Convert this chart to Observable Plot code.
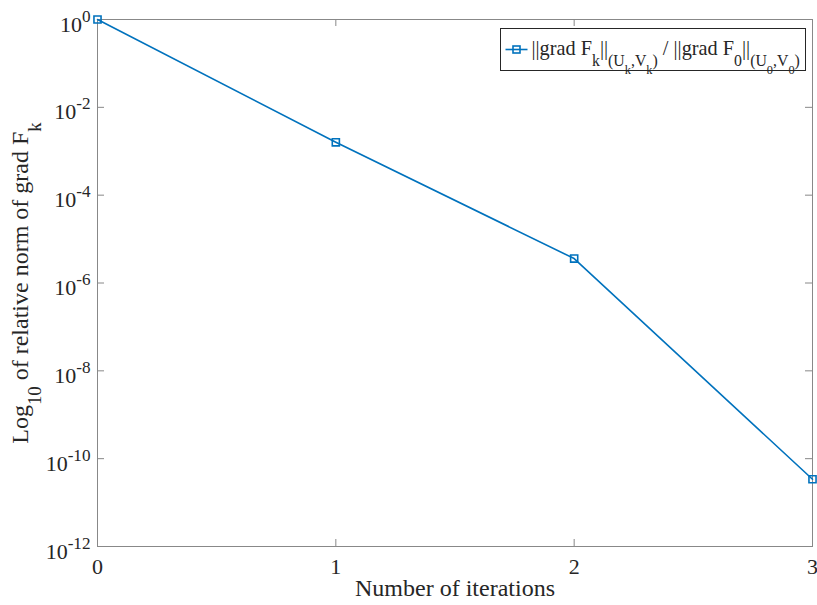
<!DOCTYPE html>
<html><head><meta charset="utf-8">
<script src="https://cdn.jsdelivr.net/npm/d3@7"></script>
<script src="https://cdn.jsdelivr.net/npm/@observablehq/plot@0.6"></script>
<style>
body{margin:0;background:#fff;}
#wrap{position:relative;width:817px;height:605px;overflow:hidden;}
</style></head><body><div id="wrap"></div>
<script>
// ---- data ----
const iterations = [0, 1, 2, 3];
const relNorm = [1, 1.6e-3, 3.6e-6, 3.4e-11];
const xTicks = [0, 1, 2, 3];
const xTickLabels = ["0", "1", "2", "3"];
const yTicks = [1e0, 1e-2, 1e-4, 1e-6, 1e-8, 1e-10, 1e-12];
const yTickLabels = ["10^{0}", "10^{-2}", "10^{-4}", "10^{-6}", "10^{-8}", "10^{-10}", "10^{-12}"];
const xLabel = "Number of iterations";
const yLabel = "Log_{10} of relative norm of grad F_{k}";
const seriesName = "||grad F_{k}||_{(U_{k},V_{k})} / ||grad F_{0}||_{(U_{0},V_{0})}";

const data = iterations.map((x, i) => ({x, y: relNorm[i]}));

const W = 817, H = 605, mL = 97, mR = 5, mT = 19, mB = 59;
const fw = W - mL - mR, fh = H - mT - mB;
const tick = 7;
const axisColor = "#888888", textColor = "#262626", lineColor = "#0072BD";
const font = "'Liberation Serif', 'Times New Roman', serif";

const plot = Plot.plot({
  width: W, height: H,
  marginLeft: mL, marginRight: mR, marginTop: mT, marginBottom: mB,
  style: {fontFamily: font, background: "#fff", color: textColor},
  x: {domain: [0, 3], axis: null},
  y: {type: "log", domain: [1e-12, 1], axis: null},
  marks: [
    Plot.frame({stroke: axisColor}),
    Plot.tickY(yTicks, {y: d => d, stroke: axisColor, insetRight: fw - tick}),
    Plot.tickY(yTicks, {y: d => d, stroke: axisColor, insetLeft: fw - tick}),
    Plot.tickX(xTicks, {x: d => d, stroke: axisColor, insetTop: fh - tick}),
    Plot.tickX(xTicks, {x: d => d, stroke: axisColor, insetBottom: fh - tick}),
    Plot.text(yTicks, {y: d => d, text: (d, i) => yTickLabels[i], frameAnchor: "left", textAnchor: "end", dx: -7, dy: 5, fontSize: 22, fill: textColor}),
    Plot.text(xTicks, {x: d => d, text: (d, i) => xTickLabels[i], frameAnchor: "bottom", lineAnchor: "top", dy: 12, fontSize: 22, fill: textColor}),
    Plot.text([xLabel], {text: d => d, frameAnchor: "bottom", textAnchor: "middle", dy: 49, fontSize: 24, fill: textColor}),
    Plot.text([yLabel], {text: d => d, frameAnchor: "left", textAnchor: "middle", rotate: -90, dx: -77, fontSize: 24, fill: textColor}),
    Plot.line(data, {x: "x", y: "y", stroke: lineColor, strokeWidth: 1.6}),
    Plot.dot(data, {x: "x", y: "y", symbol: "square", r: 4, stroke: lineColor, strokeWidth: 1.6, fill: "none"})
  ]
});
const wrap = document.getElementById("wrap");
wrap.appendChild(plot);

// ---- rich text (sub/superscripts) ----
function parseRich(s, size, shift, out) {
  let buf = "", i = 0;
  while (i < s.length) {
    const c = s[i];
    if ((c === "_" || c === "^") && s[i + 1] === "{") {
      if (buf) { out.push({t: buf, size, shift}); buf = ""; }
      let depth = 1, j = i + 2;
      while (j < s.length && depth > 0) { if (s[j] === "{") depth++; else if (s[j] === "}") depth--; j++; }
      const inner = s.slice(i + 2, j - 1);
      const ns = size * 0.78;
      const nsh = c === "_" ? shift + size * 0.55 : shift - size * 0.45;
      parseRich(inner, ns, nsh, out);
      i = j;
    } else { buf += c; i++; }
  }
  if (buf) out.push({t: buf, size, shift});
  return out;
}
function richify(el, s, size) {
  const segs = parseRich(s, size, 0, []);
  while (el.firstChild) el.removeChild(el.firstChild);
  let cur = 0;
  for (const g of segs) {
    const ts = document.createElementNS("http://www.w3.org/2000/svg", "tspan");
    ts.setAttribute("font-size", g.size);
    if (g.shift !== cur) ts.setAttribute("dy", g.shift - cur);
    cur = g.shift;
    ts.textContent = g.t;
    el.appendChild(ts);
  }
}
plot.querySelectorAll("text").forEach(el => {
  const s = el.textContent;
  if (s.includes("_{") || s.includes("^{")) {
    const size = parseFloat(getComputedStyle(el).fontSize);
    richify(el, s, size);
  }
});

// ---- legend ----
const leg = d3.select(wrap).append("svg")
  .attr("width", W).attr("height", H)
  .style("position", "absolute").style("left", "0px").style("top", "0px");
const lx = 500.5, ly = 28.5, lw = 305, lh = 42;
leg.append("rect").attr("x", lx).attr("y", ly).attr("width", lw).attr("height", lh)
  .attr("fill", "#fff").attr("stroke", textColor).attr("stroke-width", 1);
leg.append("line").attr("x1", lx + 5).attr("x2", lx + 27).attr("y1", ly + 21).attr("y2", ly + 21)
  .attr("stroke", lineColor).attr("stroke-width", 1.6);
leg.append("rect").attr("x", lx + 16 - 3.5).attr("y", ly + 21 - 3.5).attr("width", 7).attr("height", 7)
  .attr("fill", "none").attr("stroke", lineColor).attr("stroke-width", 1.6);
const lt = leg.append("text").attr("x", lx + 31).attr("y", ly + 26)
  .attr("font-family", font).attr("font-size", 20.3).attr("fill", textColor)
  .style("white-space", "pre");
richify(lt.node(), seriesName, 20.3);
</script>
</body></html>
